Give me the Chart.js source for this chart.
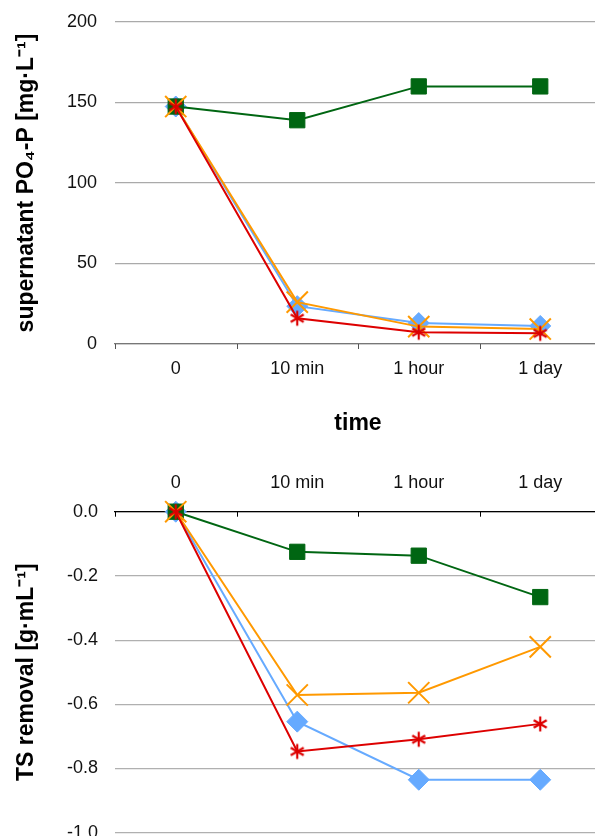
<!DOCTYPE html>
<html>
<head>
<meta charset="utf-8">
<script src="https://cdn.jsdelivr.net/npm/chart.js@4.4.1/dist/chart.umd.min.js"></script>
<style>
html,body{margin:0;padding:0;overflow:hidden;background:#fff;}
body{width:595px;height:836px;position:relative;}
canvas{position:absolute;left:0;}
</style>
</head>
<body>
<canvas id="c1" width="601" height="440" style="top:0px"></canvas>
<canvas id="c2" width="601" height="410" style="top:440px"></canvas>
<script>
// ---- data ----
const categories = ['0', '10 min', '1 hour', '1 day'];

// supernatant PO4-P [mg/L]
const po4Blue   = [147.5, 23.5, 13.0, 11.2];
const po4Orange = [147.5, 26.0, 10.8, 9.3];
const po4Green  = [147.5, 139.0, 160.0, 160.0];
const po4Red    = [147.5, 16.0, 7.3, 6.6];

// TS removal [g/mL]
const tsBlue   = [0, -0.654, -0.835, -0.835];
const tsOrange = [0, -0.571, -0.564, -0.421];
const tsGreen  = [0, -0.125, -0.137, -0.266];
const tsRed    = [0, -0.747, -0.709, -0.661];

const po4Ticks = [0, 50, 100, 150, 200];
const tsTicks  = [0, -0.2, -0.4, -0.6, -0.8, -1.0];

// ---- styles ----
const FONT = "'Liberation Sans', Arial, Helvetica, sans-serif";
const C_BLUE = '#66aaff', C_ORANGE = '#ff9900', C_GREEN = '#006612', C_RED = '#dd0000';
const CLEAR = 'rgba(0,0,0,0)';

function makeAsterisk(color) {
  const cv = document.createElement('canvas');
  cv.width = 18; cv.height = 18;
  const g = cv.getContext('2d');
  g.strokeStyle = color; g.lineWidth = 2.2; g.lineCap = 'butt';
  const r = 7.5;
  [90, 30, 150].forEach(a => {
    const t = a * Math.PI / 180;
    g.beginPath();
    g.moveTo(9 - r * Math.cos(t), 9 - r * Math.sin(t));
    g.lineTo(9 + r * Math.cos(t), 9 + r * Math.sin(t));
    g.stroke();
  });
  return cv;
}
const asterisk = makeAsterisk(C_RED);

function datasets(red, orange, green, blue) {
  return [
    {data: red, borderColor: C_RED, backgroundColor: C_RED, borderWidth: 2,
     pointStyle: asterisk, pointRadius: 8},
    {data: orange, borderColor: C_ORANGE, backgroundColor: C_ORANGE, borderWidth: 2,
     pointStyle: 'crossRot', pointRadius: 15, pointBorderWidth: 2},
    {data: green, borderColor: C_GREEN, backgroundColor: C_GREEN, borderWidth: 2,
     pointStyle: 'rect', pointRadius: 10.8, pointBorderWidth: 1},
    {data: blue, borderColor: C_BLUE, backgroundColor: C_BLUE, borderWidth: 2,
     pointStyle: 'rectRot', pointRadius: 10.5, pointBorderWidth: 1}
  ].map(d => Object.assign({tension: 0, fill: false, clip: false}, d));
}

// small tick marks at category boundaries, pointing down from the x axis line
function tickMarks(color, atTop) {
  return {
    id: 'tickMarks',
    afterDraw(chart) {
      const s = chart.scales.x, ctx = chart.ctx, n = categories.length;
      const y0 = atTop ? s.bottom : s.top;
      ctx.save();
      ctx.strokeStyle = color; ctx.lineWidth = 1;
      for (let i = 0; i <= n; i++) {
        const x = Math.round(s.left + i * s.width / n) + 0.5;
        ctx.beginPath();
        ctx.moveTo(x, y0);
        ctx.lineTo(x, y0 + 5);
        ctx.stroke();
      }
      ctx.restore();
    }
  };
}

const common = {
  responsive: false,
  animation: false,
  events: [],
  plugins: {legend: {display: false}, tooltip: {enabled: false}}
};

// ---- top chart ----
new Chart(document.getElementById('c1'), {
  type: 'line',
  data: {labels: categories, datasets: datasets(po4Red, po4Orange, po4Green, po4Blue)},
  plugins: [tickMarks('#555', false)],
  options: Object.assign({}, common, {
    layout: {autoPadding: false, padding: {top: 22, left: 0, right: 0, bottom: 0}},
    scales: {
      x: {
        type: 'category', offset: true,
        grid: {offset: true, drawOnChartArea: false, drawTicks: true, tickLength: 14, tickColor: CLEAR},
        border: {display: true, color: '#777', width: 1.2},
        ticks: {padding: 0, color: '#111', font: {family: FONT, size: 18}},
        title: {display: true, text: 'time', color: '#000',
                font: {family: FONT, size: 23, weight: 'bold'}, padding: {top: 0, bottom: 3}},
        afterFit: s => { s.height = 96; }
      },
      y: {
        min: 0, max: 200,
        afterBuildTicks: s => { s.ticks = po4Ticks.map(v => ({value: v})); },
        grid: {color: '#aaaaaa', drawTicks: true, tickLength: 18, tickColor: CLEAR, lineWidth: 1.2},
        border: {display: false},
        ticks: {padding: 0, color: '#111', font: {family: FONT, size: 18}},
        title: {display: true, text: 'supernatant PO\u2084-P [mg\u00b7L\u207b\u00b9]', color: '#000',
                font: {family: FONT, size: 23, weight: 'bold'}, padding: {top: 13, bottom: 0}},
        afterFit: s => { s.width = 115; }
      }
    }
  })
});

// ---- bottom chart ----
new Chart(document.getElementById('c2'), {
  type: 'line',
  data: {labels: categories, datasets: datasets(tsRed, tsOrange, tsGreen, tsBlue)},
  plugins: [tickMarks('#000', true)],
  options: Object.assign({}, common, {
    layout: {autoPadding: false, padding: {top: 0, left: 0, right: 0, bottom: 17.3}},
    scales: {
      x: {
        type: 'category', position: 'top', offset: true,
        grid: {offset: true, drawOnChartArea: false, drawTicks: true, tickLength: 18, tickColor: CLEAR},
        border: {display: true, color: '#000', width: 1.2},
        ticks: {padding: 0, color: '#111', font: {family: FONT, size: 18}},
        afterFit: s => { s.height = 71.7; }
      },
      y: {
        min: -1.0, max: 0,
        afterBuildTicks: s => { s.ticks = tsTicks.map(v => ({value: v})); },
        grid: {color: '#b0b0b0', drawTicks: true, tickLength: 17, tickColor: CLEAR, lineWidth: 1.2},
        border: {display: false},
        ticks: {padding: 0, color: '#111', font: {family: FONT, size: 18},
                callback: v => Number(v).toFixed(1)},
        title: {display: true, text: 'TS removal [g\u00b7mL\u207b\u00b9]', color: '#000',
                font: {family: FONT, size: 23, weight: 'bold'}, padding: {top: 13, bottom: 0}},
        afterFit: s => { s.width = 115; }
      }
    }
  })
});
</script>
</body>
</html>
